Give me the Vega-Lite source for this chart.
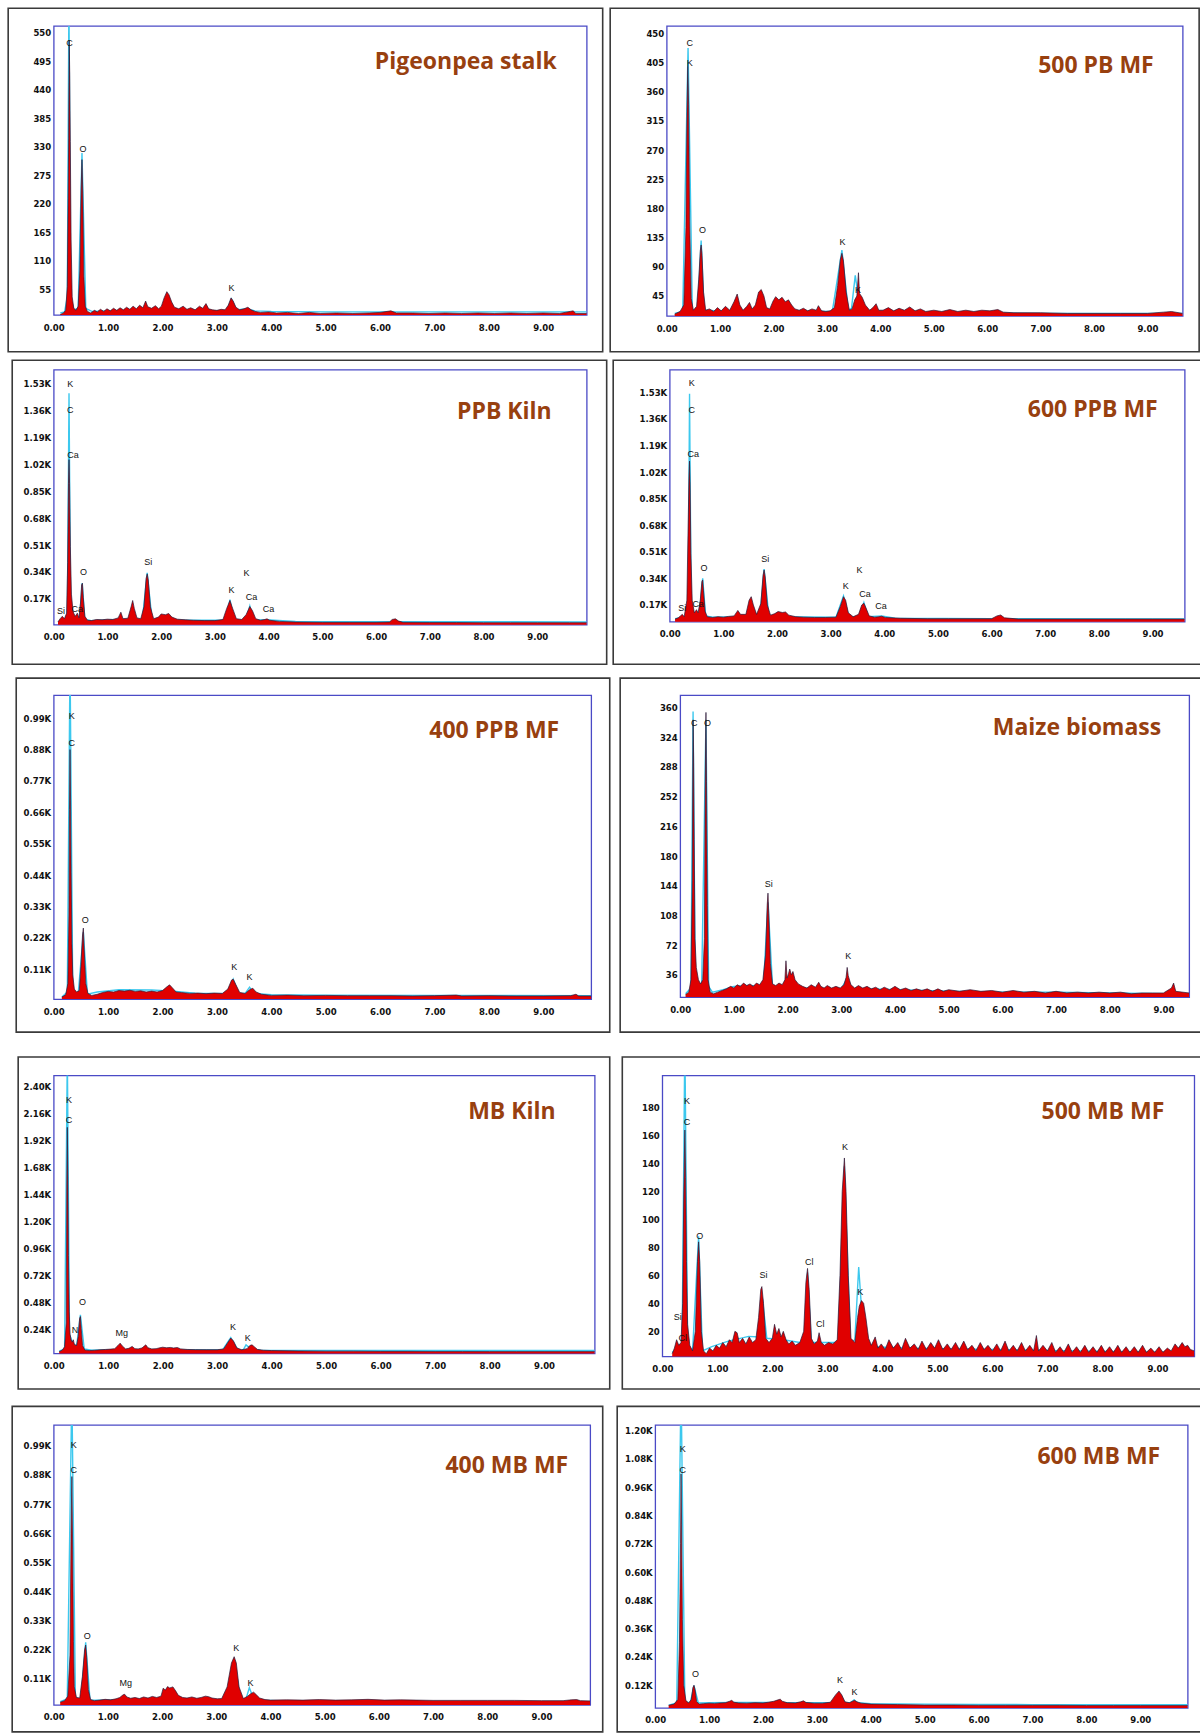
{
"$schema": "https://vega.github.io/schema/vega-lite/v6.json",
"background": "white",
"padding": {"left": 6.7, "top": 6.0, "right": 0, "bottom": 0},
"spacing": 4.7,
"datasets": {
"one": [{"n": 1}],
"s1": [{"e":0.12,"c":6},{"e":0.18,"c":9},{"e":0.22,"c":14},{"e":0.25,"c":60},{"e":0.265,"c":230},{"e":0.275,"c":345},{"e":0.285,"c":535},{"e":0.295,"c":470},{"e":0.305,"c":340},{"e":0.32,"c":150},{"e":0.34,"c":40},{"e":0.37,"c":18},{"e":0.41,"c":14},{"e":0.45,"c":22},{"e":0.48,"c":90},{"e":0.505,"c":250},{"e":0.52,"c":305},{"e":0.535,"c":240},{"e":0.555,"c":80},{"e":0.58,"c":22},{"e":0.62,"c":12},{"e":0.68,"c":9},{"e":0.75,"c":14},{"e":0.8,"c":11},{"e":0.86,"c":16},{"e":0.92,"c":12},{"e":0.98,"c":17},{"e":1.04,"c":13},{"e":1.1,"c":18},{"e":1.16,"c":14},{"e":1.22,"c":19},{"e":1.28,"c":15},{"e":1.34,"c":20},{"e":1.4,"c":16},{"e":1.46,"c":22},{"e":1.52,"c":17},{"e":1.58,"c":24},{"e":1.64,"c":19},{"e":1.69,"c":32},{"e":1.73,"c":21},{"e":1.8,"c":18},{"e":1.87,"c":23},{"e":1.93,"c":17},{"e":1.98,"c":22},{"e":2.03,"c":38},{"e":2.08,"c":50},{"e":2.12,"c":44},{"e":2.17,"c":30},{"e":2.22,"c":20},{"e":2.3,"c":17},{"e":2.38,"c":22},{"e":2.45,"c":16},{"e":2.52,"c":19},{"e":2.6,"c":15},{"e":2.68,"c":22},{"e":2.74,"c":18},{"e":2.8,"c":27},{"e":2.85,"c":17},{"e":2.92,"c":15},{"e":3.0,"c":14},{"e":3.08,"c":16},{"e":3.15,"c":15},{"e":3.21,"c":24},{"e":3.26,"c":38},{"e":3.3,"c":32},{"e":3.35,"c":20},{"e":3.42,"c":15},{"e":3.5,"c":17},{"e":3.57,"c":20},{"e":3.63,"c":15},{"e":3.7,"c":12},{"e":3.8,"c":10},{"e":3.95,"c":11},{"e":4.1,"c":9},{"e":4.3,"c":10},{"e":4.5,"c":8},{"e":4.7,"c":10},{"e":4.9,"c":8},{"e":5.2,"c":9},{"e":5.5,"c":8},{"e":5.8,"c":9},{"e":6.0,"c":10},{"e":6.2,"c":13},{"e":6.3,"c":9},{"e":6.6,"c":9},{"e":6.9,"c":8},{"e":7.2,"c":9},{"e":7.5,"c":8},{"e":7.8,"c":9},{"e":8.1,"c":8},{"e":8.4,"c":9},{"e":8.7,"c":8},{"e":9.0,"c":9},{"e":9.3,"c":8},{"e":9.5,"c":12},{"e":9.55,"c":13},{"e":9.6,"c":8},{"e":9.8,"c":8}],
"f1": [{"e":0.12,"c":9},{"e":0.2,"c":11},{"e":0.25,"c":40},{"e":0.28,"c":620},{"e":0.31,"c":40},{"e":0.37,"c":15},{"e":0.45,"c":18},{"e":0.52,"c":318},{"e":0.59,"c":18},{"e":0.7,"c":12},{"e":1.0,"c":13},{"e":1.5,"c":14},{"e":2.0,"c":14},{"e":2.5,"c":13},{"e":3.0,"c":13},{"e":3.18,"c":14},{"e":3.27,"c":36},{"e":3.36,"c":15},{"e":3.55,"c":17},{"e":3.7,"c":13},{"e":4.0,"c":12},{"e":5.0,"c":11},{"e":6.0,"c":11},{"e":7.0,"c":11},{"e":8.0,"c":11},{"e":9.0,"c":11},{"e":9.8,"c":11}],
"l1": [{"e":0.29,"c":530,"t":"C"},{"e":0.54,"c":325,"t":"O"},{"e":3.27,"c":58,"t":"K"}],
"s2": [{"e":0.15,"c":16},{"e":0.25,"c":20},{"e":0.32,"c":30},{"e":0.36,"c":150},{"e":0.38,"c":330},{"e":0.395,"c":400},{"e":0.41,"c":340},{"e":0.43,"c":160},{"e":0.46,"c":40},{"e":0.5,"c":22},{"e":0.56,"c":28},{"e":0.6,"c":70},{"e":0.63,"c":115},{"e":0.645,"c":123},{"e":0.66,"c":110},{"e":0.69,"c":50},{"e":0.73,"c":22},{"e":0.8,"c":24},{"e":0.88,"c":20},{"e":0.95,"c":26},{"e":1.02,"c":21},{"e":1.1,"c":28},{"e":1.18,"c":22},{"e":1.26,"c":35},{"e":1.32,"c":47},{"e":1.37,"c":30},{"e":1.43,"c":22},{"e":1.5,"c":28},{"e":1.55,"c":34},{"e":1.6,"c":24},{"e":1.66,"c":30},{"e":1.72,"c":50},{"e":1.77,"c":54},{"e":1.82,"c":44},{"e":1.87,"c":26},{"e":1.93,"c":24},{"e":1.99,"c":36},{"e":2.04,"c":43},{"e":2.1,"c":38},{"e":2.16,"c":42},{"e":2.22,"c":35},{"e":2.28,"c":38},{"e":2.34,"c":30},{"e":2.4,"c":24},{"e":2.48,"c":22},{"e":2.56,"c":25},{"e":2.64,"c":21},{"e":2.72,"c":24},{"e":2.8,"c":22},{"e":2.84,"c":29},{"e":2.9,"c":21},{"e":2.98,"c":20},{"e":3.06,"c":21},{"e":3.14,"c":26},{"e":3.2,"c":60},{"e":3.25,"c":100},{"e":3.28,"c":110},{"e":3.31,"c":98},{"e":3.36,"c":50},{"e":3.42,"c":22},{"e":3.47,"c":24},{"e":3.52,"c":38},{"e":3.56,"c":44},{"e":3.59,"c":80},{"e":3.61,"c":48},{"e":3.66,"c":42},{"e":3.72,"c":30},{"e":3.8,"c":22},{"e":3.86,"c":26},{"e":3.92,"c":32},{"e":3.97,"c":22},{"e":4.05,"c":22},{"e":4.15,"c":26},{"e":4.25,"c":21},{"e":4.35,"c":25},{"e":4.45,"c":22},{"e":4.55,"c":27},{"e":4.65,"c":21},{"e":4.75,"c":24},{"e":4.85,"c":20},{"e":5.0,"c":22},{"e":5.15,"c":20},{"e":5.3,"c":23},{"e":5.45,"c":20},{"e":5.6,"c":22},{"e":5.75,"c":20},{"e":5.9,"c":22},{"e":6.05,"c":21},{"e":6.2,"c":23},{"e":6.3,"c":19},{"e":6.5,"c":18},{"e":7.0,"c":18},{"e":7.5,"c":17},{"e":8.0,"c":17},{"e":8.5,"c":17},{"e":9.0,"c":17},{"e":9.3,"c":19},{"e":9.45,"c":20},{"e":9.66,"c":17}],
"f2": [{"e":0.15,"c":17},{"e":0.3,"c":20},{"e":0.4,"c":428},{"e":0.48,"c":22},{"e":0.58,"c":22},{"e":0.645,"c":130},{"e":0.7,"c":22},{"e":1.0,"c":21},{"e":2.0,"c":21},{"e":3.1,"c":20},{"e":3.28,"c":115},{"e":3.4,"c":22},{"e":3.46,"c":25},{"e":3.53,"c":76},{"e":3.6,"c":35},{"e":3.7,"c":22},{"e":4.5,"c":19},{"e":6.0,"c":18},{"e":7.0,"c":17},{"e":9.66,"c":17}],
"l2": [{"e":0.43,"c":435,"t":"C"},{"e":0.43,"c":404,"t":"K"},{"e":0.67,"c":146,"t":"O"},{"e":3.29,"c":128,"t":"K"},{"e":3.58,"c":53,"t":"K"}],
"s3": [{"e":0.08,"c":25},{"e":0.12,"c":45},{"e":0.16,"c":60},{"e":0.2,"c":45},{"e":0.24,"c":80},{"e":0.26,"c":400},{"e":0.275,"c":900},{"e":0.285,"c":1050},{"e":0.295,"c":900},{"e":0.31,"c":500},{"e":0.33,"c":200},{"e":0.36,"c":90},{"e":0.4,"c":60},{"e":0.44,"c":80},{"e":0.47,"c":50},{"e":0.5,"c":150},{"e":0.52,"c":260},{"e":0.535,"c":269},{"e":0.55,"c":180},{"e":0.58,"c":60},{"e":0.63,"c":35},{"e":0.7,"c":33},{"e":0.8,"c":40},{"e":0.9,"c":38},{"e":1.0,"c":42},{"e":1.1,"c":40},{"e":1.2,"c":50},{"e":1.25,"c":86},{"e":1.29,"c":45},{"e":1.38,"c":48},{"e":1.44,"c":120},{"e":1.47,"c":160},{"e":1.5,"c":110},{"e":1.55,"c":50},{"e":1.62,"c":45},{"e":1.68,"c":120},{"e":1.72,"c":300},{"e":1.74,"c":328},{"e":1.76,"c":290},{"e":1.8,"c":120},{"e":1.86,"c":45},{"e":1.95,"c":55},{"e":2.0,"c":75},{"e":2.08,"c":70},{"e":2.14,"c":78},{"e":2.2,"c":55},{"e":2.3,"c":42},{"e":2.45,"c":38},{"e":2.6,"c":35},{"e":2.8,"c":33},{"e":3.0,"c":33},{"e":3.15,"c":40},{"e":3.22,"c":110},{"e":3.28,"c":160},{"e":3.33,"c":110},{"e":3.4,"c":45},{"e":3.5,"c":40},{"e":3.58,"c":70},{"e":3.65,"c":122},{"e":3.7,"c":95},{"e":3.76,"c":45},{"e":3.85,"c":35},{"e":3.93,"c":40},{"e":3.97,"c":44},{"e":4.02,"c":35},{"e":4.2,"c":28},{"e":4.5,"c":24},{"e":5.0,"c":22},{"e":5.5,"c":22},{"e":6.0,"c":22},{"e":6.25,"c":24},{"e":6.3,"c":40},{"e":6.36,"c":44},{"e":6.42,"c":30},{"e":6.5,"c":22},{"e":7.0,"c":21},{"e":7.5,"c":21},{"e":8.0,"c":20},{"e":8.5,"c":20},{"e":9.0,"c":20},{"e":9.6,"c":20},{"e":9.92,"c":20}],
"f3": [{"e":0.08,"c":25},{"e":0.2,"c":35},{"e":0.255,"c":80},{"e":0.285,"c":1470},{"e":0.315,"c":80},{"e":0.4,"c":45},{"e":0.48,"c":40},{"e":0.53,"c":270},{"e":0.58,"c":40},{"e":0.7,"c":33},{"e":1.0,"c":38},{"e":1.5,"c":40},{"e":1.65,"c":40},{"e":1.74,"c":335},{"e":1.83,"c":40},{"e":2.5,"c":35},{"e":3.2,"c":35},{"e":3.28,"c":165},{"e":3.36,"c":35},{"e":3.58,"c":35},{"e":3.65,"c":125},{"e":3.72,"c":35},{"e":3.95,"c":38},{"e":4.5,"c":27},{"e":6.0,"c":26},{"e":9.92,"c":25}],
"l3": [{"e":0.31,"c":1530,"t":"K"},{"e":0.31,"c":1361,"t":"C"},{"e":0.36,"c":1077,"t":"Ca"},{"e":0.135,"c":96,"t":"Si"},{"e":0.44,"c":107,"t":"Ca"},{"e":0.555,"c":343,"t":"O"},{"e":1.76,"c":402,"t":"Si"},{"e":3.31,"c":229,"t":"K"},{"e":3.59,"c":335,"t":"K"},{"e":3.68,"c":181,"t":"Ca"},{"e":4.0,"c":107,"t":"Ca"}],
"s4": [{"e":0.1,"c":80},{"e":0.16,"c":88},{"e":0.2,"c":100},{"e":0.235,"c":110},{"e":0.27,"c":95},{"e":0.32,"c":200},{"e":0.345,"c":700},{"e":0.36,"c":1000},{"e":0.37,"c":1090},{"e":0.38,"c":950},{"e":0.395,"c":500},{"e":0.42,"c":200},{"e":0.46,"c":120},{"e":0.5,"c":140},{"e":0.53,"c":120},{"e":0.57,"c":200},{"e":0.6,"c":320},{"e":0.615,"c":330},{"e":0.63,"c":260},{"e":0.66,"c":130},{"e":0.7,"c":95},{"e":0.8,"c":90},{"e":0.9,"c":95},{"e":1.0,"c":92},{"e":1.1,"c":97},{"e":1.2,"c":100},{"e":1.27,"c":135},{"e":1.32,"c":110},{"e":1.42,"c":110},{"e":1.48,"c":200},{"e":1.52,"c":223},{"e":1.56,"c":170},{"e":1.62,"c":110},{"e":1.7,"c":180},{"e":1.74,"c":360},{"e":1.76,"c":394},{"e":1.78,"c":350},{"e":1.82,"c":170},{"e":1.88,"c":105},{"e":1.96,"c":115},{"e":2.02,"c":128},{"e":2.1,"c":122},{"e":2.16,"c":125},{"e":2.22,"c":105},{"e":2.35,"c":95},{"e":2.5,"c":92},{"e":2.7,"c":90},{"e":2.9,"c":90},{"e":3.1,"c":92},{"e":3.18,"c":160},{"e":3.24,"c":223},{"e":3.28,"c":200},{"e":3.33,"c":120},{"e":3.42,"c":95},{"e":3.52,"c":110},{"e":3.58,"c":170},{"e":3.62,"c":181},{"e":3.66,"c":150},{"e":3.72,"c":100},{"e":3.82,"c":92},{"e":3.9,"c":95},{"e":3.95,"c":98},{"e":4.02,"c":90},{"e":4.3,"c":85},{"e":4.8,"c":82},{"e":5.2,"c":82},{"e":5.6,"c":82},{"e":6.0,"c":82},{"e":6.1,"c":100},{"e":6.17,"c":106},{"e":6.24,"c":88},{"e":6.5,"c":80},{"e":7.0,"c":80},{"e":7.5,"c":80},{"e":8.0,"c":80},{"e":8.5,"c":80},{"e":9.0,"c":80},{"e":9.6,"c":80}],
"f4": [{"e":0.1,"c":82},{"e":0.3,"c":95},{"e":0.345,"c":150},{"e":0.37,"c":1520},{"e":0.4,"c":150},{"e":0.47,"c":110},{"e":0.55,"c":100},{"e":0.615,"c":340},{"e":0.67,"c":100},{"e":0.8,"c":92},{"e":1.5,"c":95},{"e":1.68,"c":95},{"e":1.76,"c":400},{"e":1.85,"c":95},{"e":3.1,"c":92},{"e":3.24,"c":228},{"e":3.34,"c":95},{"e":3.53,"c":95},{"e":3.62,"c":185},{"e":3.7,"c":95},{"e":3.95,"c":100},{"e":4.2,"c":85},{"e":6.0,"c":82},{"e":9.6,"c":80}],
"l4": [{"e":0.41,"c":1588,"t":"K"},{"e":0.41,"c":1417,"t":"C"},{"e":0.44,"c":1133,"t":"Ca"},{"e":0.235,"c":153,"t":"Si"},{"e":0.53,"c":174,"t":"Ca"},{"e":0.64,"c":404,"t":"O"},{"e":1.78,"c":464,"t":"Si"},{"e":3.28,"c":291,"t":"K"},{"e":3.54,"c":394,"t":"K"},{"e":3.64,"c":240,"t":"Ca"},{"e":3.94,"c":166,"t":"Ca"}],
"s5": [{"e":0.15,"c":12},{"e":0.22,"c":20},{"e":0.26,"c":60},{"e":0.28,"c":300},{"e":0.29,"c":670},{"e":0.3,"c":880},{"e":0.31,"c":700},{"e":0.32,"c":450},{"e":0.335,"c":200},{"e":0.35,"c":90},{"e":0.38,"c":40},{"e":0.42,"c":30},{"e":0.47,"c":35},{"e":0.5,"c":120},{"e":0.53,"c":230},{"e":0.545,"c":254},{"e":0.56,"c":180},{"e":0.59,"c":60},{"e":0.63,"c":25},{"e":0.7,"c":18},{"e":0.8,"c":22},{"e":0.9,"c":28},{"e":1.0,"c":32},{"e":1.1,"c":30},{"e":1.2,"c":35},{"e":1.3,"c":33},{"e":1.4,"c":36},{"e":1.5,"c":32},{"e":1.6,"c":34},{"e":1.7,"c":30},{"e":1.8,"c":33},{"e":1.9,"c":30},{"e":2.0,"c":35},{"e":2.08,"c":48},{"e":2.13,"c":55},{"e":2.18,"c":45},{"e":2.25,"c":30},{"e":2.35,"c":28},{"e":2.5,"c":25},{"e":2.65,"c":26},{"e":2.8,"c":24},{"e":2.95,"c":26},{"e":3.1,"c":25},{"e":3.2,"c":40},{"e":3.27,"c":72},{"e":3.3,"c":75},{"e":3.35,"c":55},{"e":3.42,"c":28},{"e":3.52,"c":25},{"e":3.6,"c":38},{"e":3.66,"c":43},{"e":3.72,"c":30},{"e":3.82,"c":22},{"e":4.0,"c":18},{"e":4.3,"c":19},{"e":4.6,"c":17},{"e":5.0,"c":18},{"e":5.4,"c":17},{"e":5.8,"c":17},{"e":6.2,"c":17},{"e":6.6,"c":16},{"e":7.0,"c":17},{"e":7.4,"c":19},{"e":7.5,"c":16},{"e":8.0,"c":17},{"e":8.5,"c":16},{"e":9.0,"c":16},{"e":9.5,"c":17},{"e":9.6,"c":22},{"e":9.65,"c":16},{"e":9.88,"c":16}],
"f5": [{"e":0.15,"c":12},{"e":0.25,"c":30},{"e":0.3,"c":1200},{"e":0.35,"c":30},{"e":0.45,"c":22},{"e":0.545,"c":240},{"e":0.62,"c":22},{"e":0.8,"c":30},{"e":1.2,"c":38},{"e":1.8,"c":37},{"e":2.2,"c":33},{"e":2.6,"c":26},{"e":3.2,"c":24},{"e":3.3,"c":75},{"e":3.4,"c":25},{"e":3.52,"c":25},{"e":3.6,"c":47},{"e":3.68,"c":25},{"e":4.0,"c":20},{"e":5.0,"c":19},{"e":7.0,"c":18},{"e":9.88,"c":17}],
"l5": [{"e":0.33,"c":996,"t":"K"},{"e":0.33,"c":902,"t":"C"},{"e":0.58,"c":283,"t":"O"},{"e":3.32,"c":117,"t":"K"},{"e":3.6,"c":81,"t":"K"}],
"s6": [{"e":0.1,"c":12},{"e":0.16,"c":15},{"e":0.2,"c":30},{"e":0.225,"c":150},{"e":0.24,"c":345},{"e":0.25,"c":300},{"e":0.26,"c":200},{"e":0.275,"c":80},{"e":0.3,"c":45},{"e":0.34,"c":30},{"e":0.38,"c":25},{"e":0.42,"c":30},{"e":0.45,"c":80},{"e":0.465,"c":260},{"e":0.48,"c":354},{"e":0.49,"c":270},{"e":0.505,"c":120},{"e":0.52,"c":30},{"e":0.56,"c":15},{"e":0.62,"c":13},{"e":0.7,"c":15},{"e":0.78,"c":17},{"e":0.86,"c":19},{"e":0.94,"c":22},{"e":1.0,"c":20},{"e":1.06,"c":24},{"e":1.12,"c":22},{"e":1.18,"c":26},{"e":1.24,"c":23},{"e":1.3,"c":25},{"e":1.36,"c":22},{"e":1.42,"c":26},{"e":1.48,"c":24},{"e":1.54,"c":30},{"e":1.59,"c":60},{"e":1.62,"c":120},{"e":1.635,"c":135},{"e":1.65,"c":110},{"e":1.68,"c":50},{"e":1.72,"c":25},{"e":1.78,"c":23},{"e":1.84,"c":26},{"e":1.9,"c":24},{"e":1.95,"c":30},{"e":1.97,"c":53},{"e":1.99,"c":32},{"e":2.02,"c":38},{"e":2.04,"c":43},{"e":2.07,"c":36},{"e":2.1,"c":40},{"e":2.14,"c":30},{"e":2.2,"c":25},{"e":2.28,"c":22},{"e":2.36,"c":20},{"e":2.44,"c":24},{"e":2.52,"c":21},{"e":2.58,"c":27},{"e":2.62,"c":22},{"e":2.68,"c":20},{"e":2.74,"c":23},{"e":2.82,"c":20},{"e":2.9,"c":22},{"e":2.98,"c":20},{"e":3.05,"c":24},{"e":3.09,"c":33},{"e":3.11,"c":45},{"e":3.13,"c":35},{"e":3.18,"c":24},{"e":3.25,"c":20},{"e":3.32,"c":23},{"e":3.4,"c":20},{"e":3.48,"c":22},{"e":3.56,"c":19},{"e":3.64,"c":21},{"e":3.72,"c":18},{"e":3.8,"c":21},{"e":3.9,"c":18},{"e":4.0,"c":22},{"e":4.1,"c":18},{"e":4.2,"c":20},{"e":4.3,"c":17},{"e":4.4,"c":19},{"e":4.5,"c":17},{"e":4.6,"c":19},{"e":4.7,"c":16},{"e":4.8,"c":19},{"e":4.9,"c":16},{"e":5.0,"c":18},{"e":5.2,"c":16},{"e":5.4,"c":18},{"e":5.6,"c":16},{"e":5.8,"c":17},{"e":6.0,"c":15},{"e":6.2,"c":17},{"e":6.4,"c":15},{"e":6.6,"c":16},{"e":6.8,"c":14},{"e":7.0,"c":16},{"e":7.2,"c":14},{"e":7.4,"c":15},{"e":7.6,"c":14},{"e":7.8,"c":15},{"e":8.0,"c":14},{"e":8.2,"c":15},{"e":8.4,"c":13},{"e":8.6,"c":14},{"e":8.8,"c":14},{"e":9.0,"c":14},{"e":9.15,"c":20},{"e":9.19,"c":26},{"e":9.23,"c":16},{"e":9.48,"c":14}],
"f6": [{"e":0.1,"c":13},{"e":0.2,"c":20},{"e":0.24,"c":355},{"e":0.28,"c":25},{"e":0.4,"c":25},{"e":0.48,"c":345},{"e":0.53,"c":22},{"e":0.6,"c":15},{"e":0.8,"c":18},{"e":1.0,"c":22},{"e":1.3,"c":23},{"e":1.55,"c":22},{"e":1.635,"c":124},{"e":1.72,"c":22},{"e":2.0,"c":21},{"e":2.5,"c":19},{"e":3.0,"c":19},{"e":3.11,"c":32},{"e":3.2,"c":19},{"e":3.5,"c":19},{"e":4.0,"c":18},{"e":5.0,"c":16},{"e":6.0,"c":15},{"e":7.0,"c":15},{"e":8.0,"c":14},{"e":9.0,"c":13},{"e":9.48,"c":13}],
"l6": [{"e":0.26,"c":341,"t":"C"},{"e":0.51,"c":341,"t":"O"},{"e":1.65,"c":146,"t":"Si"},{"e":3.13,"c":59,"t":"K"}],
"s7": [{"e":0.1,"c":45},{"e":0.16,"c":60},{"e":0.2,"c":90},{"e":0.23,"c":300},{"e":0.24,"c":1500},{"e":0.25,"c":2040},{"e":0.26,"c":1600},{"e":0.27,"c":900},{"e":0.285,"c":400},{"e":0.3,"c":200},{"e":0.32,"c":150},{"e":0.34,"c":130},{"e":0.36,"c":151},{"e":0.38,"c":110},{"e":0.42,"c":100},{"e":0.45,"c":180},{"e":0.475,"c":340},{"e":0.49,"c":358},{"e":0.505,"c":250},{"e":0.53,"c":100},{"e":0.57,"c":60},{"e":0.65,"c":55},{"e":0.75,"c":58},{"e":0.85,"c":62},{"e":0.95,"c":65},{"e":1.05,"c":68},{"e":1.12,"c":72},{"e":1.18,"c":100},{"e":1.22,"c":121},{"e":1.26,"c":95},{"e":1.32,"c":70},{"e":1.38,"c":75},{"e":1.44,"c":92},{"e":1.49,"c":72},{"e":1.55,"c":70},{"e":1.62,"c":78},{"e":1.69,"c":106},{"e":1.73,"c":80},{"e":1.8,"c":70},{"e":1.88,"c":72},{"e":1.95,"c":80},{"e":2.0,"c":85},{"e":2.07,"c":80},{"e":2.14,"c":83},{"e":2.2,"c":78},{"e":2.27,"c":82},{"e":2.33,"c":70},{"e":2.45,"c":65},{"e":2.6,"c":63},{"e":2.8,"c":62},{"e":3.0,"c":62},{"e":3.12,"c":70},{"e":3.2,"c":130},{"e":3.25,"c":166},{"e":3.3,"c":140},{"e":3.36,"c":80},{"e":3.45,"c":62},{"e":3.55,"c":72},{"e":3.6,"c":100},{"e":3.64,"c":106},{"e":3.68,"c":90},{"e":3.74,"c":65},{"e":3.85,"c":58},{"e":4.0,"c":55},{"e":4.5,"c":52},{"e":5.0,"c":50},{"e":5.5,"c":50},{"e":6.0,"c":48},{"e":6.5,"c":48},{"e":7.0,"c":47},{"e":7.5,"c":47},{"e":8.0,"c":46},{"e":8.5,"c":46},{"e":9.0,"c":46},{"e":9.93,"c":46}],
"f7": [{"e":0.1,"c":50},{"e":0.2,"c":70},{"e":0.25,"c":2700},{"e":0.29,"c":200},{"e":0.35,"c":120},{"e":0.42,"c":90},{"e":0.49,"c":373},{"e":0.56,"c":70},{"e":0.7,"c":58},{"e":1.0,"c":62},{"e":2.0,"c":62},{"e":3.1,"c":62},{"e":3.25,"c":170},{"e":3.38,"c":62},{"e":3.48,"c":62},{"e":3.53,"c":106},{"e":3.62,"c":70},{"e":3.8,"c":58},{"e":4.5,"c":56},{"e":6.0,"c":55},{"e":9.93,"c":55}],
"l7": [{"e":0.28,"c":2287,"t":"K"},{"e":0.28,"c":2103,"t":"C"},{"e":0.39,"c":240,"t":"N"},{"e":0.53,"c":486,"t":"O"},{"e":1.25,"c":210,"t":"Mg"},{"e":3.29,"c":269,"t":"K"},{"e":3.56,"c":166,"t":"K"}],
"s8": [{"e":0.18,"c":4},{"e":0.22,"c":8},{"e":0.26,"c":14},{"e":0.3,"c":10},{"e":0.34,"c":12},{"e":0.37,"c":40},{"e":0.39,"c":116},{"e":0.41,"c":164},{"e":0.425,"c":130},{"e":0.44,"c":70},{"e":0.46,"c":25},{"e":0.5,"c":10},{"e":0.55,"c":6},{"e":0.6,"c":20},{"e":0.64,"c":70},{"e":0.66,"c":84},{"e":0.68,"c":70},{"e":0.71,"c":20},{"e":0.75,"c":6},{"e":0.8,"c":4},{"e":0.86,"c":8},{"e":0.92,"c":6},{"e":0.98,"c":10},{"e":1.04,"c":8},{"e":1.1,"c":12},{"e":1.16,"c":9},{"e":1.22,"c":14},{"e":1.27,"c":12},{"e":1.32,"c":20},{"e":1.36,"c":19},{"e":1.4,"c":12},{"e":1.46,"c":15},{"e":1.52,"c":11},{"e":1.58,"c":16},{"e":1.64,"c":12},{"e":1.7,"c":14},{"e":1.75,"c":30},{"e":1.79,"c":50},{"e":1.81,"c":52},{"e":1.84,"c":40},{"e":1.88,"c":15},{"e":1.94,"c":12},{"e":2.0,"c":15},{"e":2.04,"c":25},{"e":2.08,"c":18},{"e":2.12,"c":22},{"e":2.16,"c":16},{"e":2.2,"c":20},{"e":2.25,"c":14},{"e":2.3,"c":11},{"e":2.36,"c":13},{"e":2.42,"c":10},{"e":2.5,"c":12},{"e":2.57,"c":20},{"e":2.61,"c":55},{"e":2.64,"c":65},{"e":2.67,"c":50},{"e":2.71,"c":15},{"e":2.76,"c":11},{"e":2.82,"c":13},{"e":2.85,"c":19},{"e":2.89,"c":12},{"e":2.95,"c":10},{"e":3.02,"c":12},{"e":3.1,"c":11},{"e":3.18,"c":14},{"e":3.23,"c":60},{"e":3.27,"c":120},{"e":3.31,"c":144},{"e":3.34,"c":120},{"e":3.38,"c":60},{"e":3.43,"c":15},{"e":3.5,"c":12},{"e":3.55,"c":30},{"e":3.58,"c":38},{"e":3.62,"c":42},{"e":3.66,"c":40},{"e":3.7,"c":30},{"e":3.75,"c":15},{"e":3.8,"c":10},{"e":3.87,"c":16},{"e":3.92,"c":8},{"e":3.98,"c":11},{"e":4.05,"c":7},{"e":4.12,"c":14},{"e":4.2,"c":8},{"e":4.28,"c":12},{"e":4.35,"c":7},{"e":4.42,"c":15},{"e":4.5,"c":8},{"e":4.58,"c":11},{"e":4.65,"c":7},{"e":4.72,"c":13},{"e":4.8,"c":7},{"e":4.88,"c":12},{"e":4.95,"c":8},{"e":5.02,"c":14},{"e":5.1,"c":7},{"e":5.18,"c":11},{"e":5.25,"c":7},{"e":5.33,"c":12},{"e":5.4,"c":7},{"e":5.48,"c":13},{"e":5.55,"c":7},{"e":5.63,"c":10},{"e":5.7,"c":6},{"e":5.78,"c":12},{"e":5.85,"c":7},{"e":5.92,"c":10},{"e":6.0,"c":6},{"e":6.08,"c":11},{"e":6.15,"c":6},{"e":6.23,"c":13},{"e":6.3,"c":6},{"e":6.38,"c":10},{"e":6.45,"c":6},{"e":6.53,"c":12},{"e":6.6,"c":6},{"e":6.68,"c":10},{"e":6.75,"c":6},{"e":6.8,"c":17},{"e":6.84,"c":6},{"e":6.92,"c":10},{"e":7.0,"c":6},{"e":7.08,"c":12},{"e":7.15,"c":5},{"e":7.23,"c":9},{"e":7.3,"c":5},{"e":7.38,"c":11},{"e":7.45,"c":5},{"e":7.53,"c":9},{"e":7.6,"c":5},{"e":7.68,"c":10},{"e":7.75,"c":5},{"e":7.83,"c":9},{"e":7.9,"c":5},{"e":7.98,"c":10},{"e":8.05,"c":5},{"e":8.13,"c":9},{"e":8.2,"c":5},{"e":8.28,"c":10},{"e":8.35,"c":5},{"e":8.43,"c":9},{"e":8.5,"c":5},{"e":8.58,"c":9},{"e":8.65,"c":5},{"e":8.73,"c":10},{"e":8.8,"c":5},{"e":8.88,"c":8},{"e":8.95,"c":5},{"e":9.03,"c":9},{"e":9.1,"c":5},{"e":9.18,"c":8},{"e":9.25,"c":6},{"e":9.32,"c":11},{"e":9.38,"c":8},{"e":9.45,"c":12},{"e":9.5,"c":9},{"e":9.55,"c":10},{"e":9.6,"c":7},{"e":9.67,"c":6}],
"f8": [{"e":0.18,"c":5},{"e":0.3,"c":8},{"e":0.36,"c":10},{"e":0.41,"c":230},{"e":0.46,"c":10},{"e":0.55,"c":6},{"e":0.66,"c":88},{"e":0.73,"c":6},{"e":0.9,"c":9},{"e":1.2,"c":13},{"e":1.57,"c":16.4},{"e":1.75,"c":16},{"e":1.82,"c":44},{"e":1.9,"c":15},{"e":2.2,"c":14},{"e":2.5,"c":12},{"e":2.58,"c":12},{"e":2.64,"c":62},{"e":2.71,"c":12},{"e":3.0,"c":12},{"e":3.2,"c":12},{"e":3.31,"c":138},{"e":3.42,"c":12},{"e":3.5,"c":14},{"e":3.57,"c":66},{"e":3.66,"c":14},{"e":3.8,"c":9},{"e":4.5,"c":8},{"e":6.0,"c":7},{"e":7.5,"c":6},{"e":9.0,"c":5},{"e":9.67,"c":5}],
"l8": [{"e":0.28,"c":30,"t":"Si"},{"e":0.37,"c":15,"t":"Cl"},{"e":0.45,"c":185,"t":"K"},{"e":0.45,"c":170,"t":"C"},{"e":0.68,"c":88.5,"t":"O"},{"e":1.84,"c":60,"t":"Si"},{"e":2.67,"c":69.4,"t":"Cl"},{"e":2.87,"c":25.5,"t":"Cl"},{"e":3.32,"c":152,"t":"K"},{"e":3.6,"c":48,"t":"K"}],
"s9": [{"e":0.12,"c":22},{"e":0.2,"c":28},{"e":0.26,"c":45},{"e":0.3,"c":200},{"e":0.32,"c":660},{"e":0.335,"c":874},{"e":0.35,"c":600},{"e":0.365,"c":250},{"e":0.38,"c":80},{"e":0.42,"c":40},{"e":0.48,"c":38},{"e":0.53,"c":120},{"e":0.57,"c":220},{"e":0.59,"c":238},{"e":0.61,"c":190},{"e":0.64,"c":70},{"e":0.68,"c":32},{"e":0.75,"c":28},{"e":0.85,"c":30},{"e":0.95,"c":33},{"e":1.05,"c":31},{"e":1.15,"c":35},{"e":1.22,"c":40},{"e":1.28,"c":50},{"e":1.31,"c":52},{"e":1.35,"c":42},{"e":1.42,"c":37},{"e":1.5,"c":40},{"e":1.58,"c":36},{"e":1.66,"c":42},{"e":1.74,"c":38},{"e":1.82,"c":44},{"e":1.9,"c":40},{"e":1.98,"c":45},{"e":2.02,"c":75},{"e":2.06,"c":68},{"e":2.1,"c":81},{"e":2.14,"c":76},{"e":2.2,"c":80},{"e":2.25,"c":65},{"e":2.3,"c":48},{"e":2.38,"c":40},{"e":2.46,"c":38},{"e":2.55,"c":42},{"e":2.64,"c":37},{"e":2.72,"c":40},{"e":2.8,"c":45},{"e":2.86,"c":43},{"e":2.92,"c":38},{"e":3.02,"c":35},{"e":3.1,"c":36},{"e":3.2,"c":80},{"e":3.28,"c":170},{"e":3.33,"c":194},{"e":3.37,"c":170},{"e":3.42,"c":80},{"e":3.5,"c":36},{"e":3.58,"c":45},{"e":3.64,"c":55},{"e":3.69,"c":60},{"e":3.74,"c":50},{"e":3.8,"c":38},{"e":3.9,"c":32},{"e":4.0,"c":30},{"e":4.3,"c":31},{"e":4.6,"c":30},{"e":4.9,"c":32},{"e":5.2,"c":30},{"e":5.5,"c":31},{"e":5.8,"c":33},{"e":6.1,"c":30},{"e":6.4,"c":31},{"e":6.7,"c":30},{"e":7.0,"c":29},{"e":7.5,"c":29},{"e":8.0,"c":29},{"e":8.5,"c":29},{"e":9.0,"c":28},{"e":9.4,"c":28},{"e":9.55,"c":31},{"e":9.65,"c":32},{"e":9.72,"c":28},{"e":9.9,"c":27}],
"f9": [{"e":0.12,"c":24},{"e":0.25,"c":35},{"e":0.335,"c":1200},{"e":0.4,"c":40},{"e":0.5,"c":32},{"e":0.59,"c":248},{"e":0.67,"c":30},{"e":0.8,"c":30},{"e":1.2,"c":32},{"e":1.31,"c":40},{"e":1.4,"c":32},{"e":2.0,"c":33},{"e":3.0,"c":31},{"e":3.2,"c":31},{"e":3.33,"c":188},{"e":3.45,"c":31},{"e":3.55,"c":35},{"e":3.61,"c":77},{"e":3.68,"c":40},{"e":3.8,"c":30},{"e":4.5,"c":26},{"e":6.0,"c":25},{"e":8.0,"c":24},{"e":9.9,"c":24}],
"l9": [{"e":0.37,"c":994,"t":"K"},{"e":0.37,"c":899,"t":"C"},{"e":0.62,"c":272,"t":"O"},{"e":1.33,"c":96,"t":"Mg"},{"e":3.37,"c":228,"t":"K"},{"e":3.63,"c":96,"t":"K"}],
"s10": [{"e":0.25,"c":35},{"e":0.35,"c":40},{"e":0.42,"c":60},{"e":0.45,"c":300},{"e":0.47,"c":720},{"e":0.48,"c":1016},{"e":0.49,"c":800},{"e":0.505,"c":400},{"e":0.53,"c":120},{"e":0.57,"c":55},{"e":0.62,"c":45},{"e":0.67,"c":60},{"e":0.7,"c":110},{"e":0.72,"c":120},{"e":0.74,"c":100},{"e":0.77,"c":50},{"e":0.82,"c":40},{"e":0.9,"c":42},{"e":1.0,"c":44},{"e":1.1,"c":43},{"e":1.2,"c":45},{"e":1.3,"c":46},{"e":1.38,"c":52},{"e":1.42,"c":56},{"e":1.46,"c":48},{"e":1.55,"c":45},{"e":1.7,"c":44},{"e":1.85,"c":46},{"e":2.0,"c":45},{"e":2.1,"c":48},{"e":2.2,"c":52},{"e":2.28,"c":58},{"e":2.32,"c":61},{"e":2.36,"c":52},{"e":2.45,"c":46},{"e":2.6,"c":45},{"e":2.7,"c":50},{"e":2.75,"c":54},{"e":2.8,"c":47},{"e":2.95,"c":44},{"e":3.1,"c":44},{"e":3.25,"c":48},{"e":3.35,"c":80},{"e":3.41,"c":95},{"e":3.46,"c":80},{"e":3.52,"c":50},{"e":3.6,"c":46},{"e":3.66,"c":52},{"e":3.7,"c":56},{"e":3.74,"c":50},{"e":3.82,"c":44},{"e":4.0,"c":40},{"e":4.5,"c":38},{"e":5.0,"c":36},{"e":5.5,"c":36},{"e":6.0,"c":35},{"e":6.5,"c":35},{"e":7.0,"c":35},{"e":7.5,"c":35},{"e":8.0,"c":34},{"e":8.5,"c":34},{"e":9.0,"c":34},{"e":9.88,"c":34}],
"f10": [{"e":0.25,"c":36},{"e":0.4,"c":45},{"e":0.48,"c":1400},{"e":0.55,"c":50},{"e":0.65,"c":45},{"e":0.72,"c":118},{"e":0.8,"c":45},{"e":1.0,"c":46},{"e":1.5,"c":47},{"e":2.0,"c":47},{"e":2.5,"c":46},{"e":3.0,"c":46},{"e":3.3,"c":46},{"e":3.41,"c":92},{"e":3.52,"c":46},{"e":3.62,"c":46},{"e":3.69,"c":58},{"e":3.76,"c":46},{"e":4.0,"c":42},{"e":5.0,"c":40},{"e":6.0,"c":39},{"e":7.0,"c":38},{"e":8.0,"c":38},{"e":9.88,"c":38}],
"l10": [{"e":0.51,"c":1122,"t":"K"},{"e":0.51,"c":1031,"t":"C"},{"e":0.75,"c":169,"t":"O"},{"e":3.43,"c":141,"t":"K"},{"e":3.7,"c":92,"t":"K"}]
},
"vconcat": [
 {"hconcat": [
  {"width": 533, "height": 289,
   "layer": [
    {"data": {"name": "one"}, "mark": {"type": "rect", "fillOpacity": 0, "stroke": "#3a3a3a", "strokeWidth": 1.6, "clip": false}, "encoding": {"x": {"datum": -0.837, "type": "quantitative", "scale": {"domain": [0, 9.8], "nice": false, "zero": false}, "axis": {"values": [0,1,2,3,4,5,6,7,8,9], "tickCount": 40, "format": ".2f", "title": null, "labelOverlap": false, "labelFlush": false}}, "x2": {"datum": 10.094}, "y": {"datum": 597.2, "type": "quantitative", "scale": {"domain": [5, 563], "nice": false, "zero": false}, "axis": {"values": [55,110,165,220,275,330,385,440,495,550], "tickCount": 40, "title": null, "labelOverlap": false, "labelFlush": false}}, "y2": {"datum": -65.9}}},
    {"data": {"name": "f1"}, "mark": {"type": "line", "color": "#3cc8ee", "strokeWidth": 1.4, "clip": true}, "encoding": {"x": {"field": "e", "type": "quantitative"}, "y": {"field": "c", "type": "quantitative"}}},
    {"data": {"name": "s1"}, "mark": {"type": "area", "color": "#e00000", "opacity": 1, "clip": true, "line": {"color": "#2a1a3a", "strokeWidth": 0.7}}, "encoding": {"x": {"field": "e", "type": "quantitative"}, "y": {"field": "c", "type": "quantitative"}}},
    {"data": {"name": "l1"}, "mark": {"type": "text", "fontSize": 9, "font": "Liberation Sans", "color": "#111", "baseline": "middle"}, "encoding": {"x": {"field": "e", "type": "quantitative"}, "y": {"field": "c", "type": "quantitative"}, "text": {"field": "t"}}},
    {"data": {"name": "one"}, "mark": {"type": "text", "align": "right", "baseline": "alphabetic", "font": "Open Sans", "fontWeight": "bold", "fontSize": 23, "color": "#98400f"}, "encoding": {"x": {"datum": 9.248, "type": "quantitative"}, "y": {"datum": 480, "type": "quantitative"}, "text": {"value": "Pigeonpea stalk"}}}
   ]},
  {"width": 516, "height": 290,
   "layer": [
    {"data": {"name": "one"}, "mark": {"type": "rect", "fillOpacity": 0, "stroke": "#3a3a3a", "strokeWidth": 1.6, "clip": false}, "encoding": {"x": {"datum": -1.058, "type": "quantitative", "scale": {"domain": [0, 9.66], "nice": false, "zero": false}, "axis": {"values": [0,1,2,3,4,5,6,7,8,9], "tickCount": 40, "format": ".2f", "title": null, "labelOverlap": false, "labelFlush": false}}, "x2": {"datum": 9.968}, "y": {"datum": 489.4, "type": "quantitative", "scale": {"domain": [13, 462], "nice": false, "zero": false}, "axis": {"values": [45,90,135,180,225,270,315,360,405,450], "tickCount": 40, "title": null, "labelOverlap": false, "labelFlush": false}}, "y2": {"datum": -42.3}}},
    {"data": {"name": "f2"}, "mark": {"type": "line", "color": "#3cc8ee", "strokeWidth": 1.4, "clip": true}, "encoding": {"x": {"field": "e", "type": "quantitative"}, "y": {"field": "c", "type": "quantitative"}}},
    {"data": {"name": "s2"}, "mark": {"type": "area", "color": "#e00000", "opacity": 1, "clip": true, "line": {"color": "#2a1a3a", "strokeWidth": 0.7}}, "encoding": {"x": {"field": "e", "type": "quantitative"}, "y": {"field": "c", "type": "quantitative"}}},
    {"data": {"name": "l2"}, "mark": {"type": "text", "fontSize": 9, "font": "Liberation Sans", "color": "#111", "baseline": "middle"}, "encoding": {"x": {"field": "e", "type": "quantitative"}, "y": {"field": "c", "type": "quantitative"}, "text": {"field": "t"}}},
    {"data": {"name": "one"}, "mark": {"type": "text", "align": "right", "baseline": "alphabetic", "font": "Open Sans", "fontWeight": "bold", "fontSize": 23, "color": "#98400f"}, "encoding": {"x": {"datum": 9.117, "type": "quantitative"}, "y": {"datum": 389.2, "type": "quantitative"}, "text": {"value": "500 PB MF"}}}
   ]}
 ], "spacing": 80, "bounds": "flush"},
 {"vconcat": [
  {"hconcat": [
   {"width": 533, "height": 255,
    "layer": [
     {"data": {"name": "one"}, "mark": {"type": "rect", "fillOpacity": 0, "stroke": "#3a3a3a", "strokeWidth": 1.6, "clip": false}, "encoding": {"x": {"datum": -0.772, "type": "quantitative", "scale": {"domain": [0, 9.92], "nice": false, "zero": false}, "axis": {"values": [0,1,2,3,4,5,6,7,8,9], "tickCount": 40, "format": ".2f", "title": null, "labelOverlap": false, "labelFlush": false}}, "x2": {"datum": 10.292}, "y": {"datum": 1678, "type": "quantitative", "scale": {"domain": [7, 1618], "nice": false, "zero": false}, "axis": {"values": [170,340,510,680,850,1020,1190,1360,1530], "tickCount": 40, "labelExpr": "format(datum.value/1000,'.2f')+'K'", "title": null, "labelOverlap": false, "labelFlush": false}}, "y2": {"datum": -242.5}}},
     {"data": {"name": "f3"}, "mark": {"type": "line", "color": "#3cc8ee", "strokeWidth": 1.4, "clip": true}, "encoding": {"x": {"field": "e", "type": "quantitative"}, "y": {"field": "c", "type": "quantitative"}}},
     {"data": {"name": "s3"}, "mark": {"type": "area", "color": "#e00000", "opacity": 1, "clip": true, "line": {"color": "#2a1a3a", "strokeWidth": 0.7}}, "encoding": {"x": {"field": "e", "type": "quantitative"}, "y": {"field": "c", "type": "quantitative"}}},
     {"data": {"name": "l3"}, "mark": {"type": "text", "fontSize": 9, "font": "Liberation Sans", "color": "#111", "baseline": "middle"}, "encoding": {"x": {"field": "e", "type": "quantitative"}, "y": {"field": "c", "type": "quantitative"}, "text": {"field": "t"}}},
     {"data": {"name": "one"}, "mark": {"type": "text", "align": "right", "baseline": "alphabetic", "font": "Open Sans", "fontWeight": "bold", "fontSize": 23, "color": "#98400f"}, "encoding": {"x": {"datum": 9.269, "type": "quantitative"}, "y": {"datum": 1308.4, "type": "quantitative"}, "text": {"value": "PPB Kiln"}}}
    ]},
   {"width": 515, "height": 252,
    "layer": [
     {"data": {"name": "one"}, "mark": {"type": "rect", "fillOpacity": 0, "stroke": "#3a3a3a", "strokeWidth": 1.6, "clip": false}, "encoding": {"x": {"datum": -1.053, "type": "quantitative", "scale": {"domain": [0, 9.6], "nice": false, "zero": false}, "axis": {"values": [0,1,2,3,4,5,6,7,8,9], "tickCount": 40, "format": ".2f", "title": null, "labelOverlap": false, "labelFlush": false}}, "x2": {"datum": 9.944}, "y": {"datum": 1734.8, "type": "quantitative", "scale": {"domain": [63, 1674], "nice": false, "zero": false}, "axis": {"values": [170,340,510,680,850,1020,1190,1360,1530], "tickCount": 40, "labelExpr": "format(datum.value/1000,'.2f')+'K'", "title": null, "labelOverlap": false, "labelFlush": false}}, "y2": {"datum": -208.7}}},
     {"data": {"name": "f4"}, "mark": {"type": "line", "color": "#3cc8ee", "strokeWidth": 1.4, "clip": true}, "encoding": {"x": {"field": "e", "type": "quantitative"}, "y": {"field": "c", "type": "quantitative"}}},
     {"data": {"name": "s4"}, "mark": {"type": "area", "color": "#e00000", "opacity": 1, "clip": true, "line": {"color": "#2a1a3a", "strokeWidth": 0.7}}, "encoding": {"x": {"field": "e", "type": "quantitative"}, "y": {"field": "c", "type": "quantitative"}}},
     {"data": {"name": "l4"}, "mark": {"type": "text", "fontSize": 9, "font": "Liberation Sans", "color": "#111", "baseline": "middle"}, "encoding": {"x": {"field": "e", "type": "quantitative"}, "y": {"field": "c", "type": "quantitative"}, "text": {"field": "t"}}},
     {"data": {"name": "one"}, "mark": {"type": "text", "align": "right", "baseline": "alphabetic", "font": "Open Sans", "fontWeight": "bold", "fontSize": 23, "color": "#98400f"}, "encoding": {"x": {"datum": 9.097, "type": "quantitative"}, "y": {"datum": 1373.5, "type": "quantitative"}, "text": {"value": "600 PPB MF"}}}
    ]}
  ], "spacing": 83, "bounds": "flush"},
  {"vconcat": [
   {"hconcat": [
    {"width": 537.5, "height": 304,
     "layer": [
      {"data": {"name": "one"}, "mark": {"type": "rect", "fillOpacity": 0, "stroke": "#3a3a3a", "strokeWidth": 1.6, "clip": false}, "encoding": {"x": {"datum": -0.689, "type": "quantitative", "scale": {"domain": [0, 9.88], "nice": false, "zero": false}, "axis": {"values": [0,1,2,3,4,5,6,7,8,9], "tickCount": 40, "format": ".2f", "title": null, "labelOverlap": false, "labelFlush": false}}, "x2": {"datum": 10.221}, "y": {"datum": 1130.6, "type": "quantitative", "scale": {"domain": [5, 1071], "nice": false, "zero": false}, "axis": {"values": [110,220,330,440,550,660,770,880,990], "tickCount": 40, "labelExpr": "format(datum.value/1000,'.2f')+'K'", "title": null, "labelOverlap": false, "labelFlush": false}}, "y2": {"datum": -110.7}}},
      {"data": {"name": "f5"}, "mark": {"type": "line", "color": "#3cc8ee", "strokeWidth": 1.4, "clip": true}, "encoding": {"x": {"field": "e", "type": "quantitative"}, "y": {"field": "c", "type": "quantitative"}}},
      {"data": {"name": "s5"}, "mark": {"type": "area", "color": "#e00000", "opacity": 1, "clip": true, "line": {"color": "#2a1a3a", "strokeWidth": 0.7}}, "encoding": {"x": {"field": "e", "type": "quantitative"}, "y": {"field": "c", "type": "quantitative"}}},
      {"data": {"name": "l5"}, "mark": {"type": "text", "fontSize": 9, "font": "Liberation Sans", "color": "#111", "baseline": "middle"}, "encoding": {"x": {"field": "e", "type": "quantitative"}, "y": {"field": "c", "type": "quantitative"}, "text": {"field": "t"}}},
      {"data": {"name": "one"}, "mark": {"type": "text", "align": "right", "baseline": "alphabetic", "font": "Open Sans", "fontWeight": "bold", "fontSize": 23, "color": "#98400f"}, "encoding": {"x": {"datum": 9.292, "type": "quantitative"}, "y": {"datum": 920.2, "type": "quantitative"}, "text": {"value": "400 PPB MF"}}}
     ]},
    {"width": 509, "height": 302,
     "layer": [
      {"data": {"name": "one"}, "mark": {"type": "rect", "fillOpacity": 0, "stroke": "#3a3a3a", "strokeWidth": 1.6, "clip": false}, "encoding": {"x": {"datum": -1.118, "type": "quantitative", "scale": {"domain": [0, 9.48], "nice": false, "zero": false}, "axis": {"values": [0,1,2,3,4,5,6,7,8,9], "tickCount": 40, "format": ".2f", "title": null, "labelOverlap": false, "labelFlush": false}}, "x2": {"datum": 9.825}, "y": {"datum": 395.6, "type": "quantitative", "scale": {"domain": [9, 375], "nice": false, "zero": false}, "axis": {"values": [36,72,108,144,180,216,252,288,324,360], "tickCount": 40, "title": null, "labelOverlap": false, "labelFlush": false}}, "y2": {"datum": -33.4}}},
      {"data": {"name": "f6"}, "mark": {"type": "line", "color": "#3cc8ee", "strokeWidth": 1.4, "clip": true}, "encoding": {"x": {"field": "e", "type": "quantitative"}, "y": {"field": "c", "type": "quantitative"}}},
      {"data": {"name": "s6"}, "mark": {"type": "area", "color": "#e00000", "opacity": 1, "clip": true, "line": {"color": "#2a1a3a", "strokeWidth": 0.7}}, "encoding": {"x": {"field": "e", "type": "quantitative"}, "y": {"field": "c", "type": "quantitative"}}},
      {"data": {"name": "l6"}, "mark": {"type": "text", "fontSize": 9, "font": "Liberation Sans", "color": "#111", "baseline": "middle"}, "encoding": {"x": {"field": "e", "type": "quantitative"}, "y": {"field": "c", "type": "quantitative"}, "text": {"field": "t"}}},
      {"data": {"name": "one"}, "mark": {"type": "text", "align": "right", "baseline": "alphabetic", "font": "Open Sans", "fontWeight": "bold", "fontSize": 23, "color": "#98400f"}, "encoding": {"x": {"datum": 8.958, "type": "quantitative"}, "y": {"datum": 326.5, "type": "quantitative"}, "text": {"value": "Maize biomass"}}}
     ]}
   ], "spacing": 88.5, "bounds": "flush"},
   {"vconcat": [
    {"hconcat": [
     {"width": 541, "height": 278,
      "layer": [
       {"data": {"name": "one"}, "mark": {"type": "rect", "fillOpacity": 0, "stroke": "#3a3a3a", "strokeWidth": 1.6, "clip": false}, "encoding": {"x": {"datum": -0.652, "type": "quantitative", "scale": {"domain": [0, 9.93], "nice": false, "zero": false}, "axis": {"values": [0,1,2,3,4,5,6,7,8,9], "tickCount": 40, "format": ".2f", "title": null, "labelOverlap": false, "labelFlush": false}}, "x2": {"datum": 10.206}, "y": {"datum": 2665.5, "type": "quantitative", "scale": {"domain": [29, 2501], "nice": false, "zero": false}, "axis": {"values": [240,480,720,960,1200,1440,1680,1920,2160,2400], "tickCount": 40, "labelExpr": "format(datum.value/1000,'.2f')+'K'", "title": null, "labelOverlap": false, "labelFlush": false}}, "y2": {"datum": -286.7}}},
       {"data": {"name": "f7"}, "mark": {"type": "line", "color": "#3cc8ee", "strokeWidth": 1.4, "clip": true}, "encoding": {"x": {"field": "e", "type": "quantitative"}, "y": {"field": "c", "type": "quantitative"}}},
       {"data": {"name": "s7"}, "mark": {"type": "area", "color": "#e00000", "opacity": 1, "clip": true, "line": {"color": "#2a1a3a", "strokeWidth": 0.7}}, "encoding": {"x": {"field": "e", "type": "quantitative"}, "y": {"field": "c", "type": "quantitative"}}},
       {"data": {"name": "l7"}, "mark": {"type": "text", "fontSize": 9, "font": "Liberation Sans", "color": "#111", "baseline": "middle"}, "encoding": {"x": {"field": "e", "type": "quantitative"}, "y": {"field": "c", "type": "quantitative"}, "text": {"field": "t"}}},
       {"data": {"name": "one"}, "mark": {"type": "text", "align": "right", "baseline": "alphabetic", "font": "Open Sans", "fontWeight": "bold", "fontSize": 23, "color": "#98400f"}, "encoding": {"x": {"datum": 9.214, "type": "quantitative"}, "y": {"datum": 2118.6, "type": "quantitative"}, "text": {"value": "MB Kiln"}}}
      ]},
     {"width": 532, "height": 281,
      "layer": [
       {"data": {"name": "one"}, "mark": {"type": "rect", "fillOpacity": 0, "stroke": "#3a3a3a", "strokeWidth": 1.6, "clip": false}, "encoding": {"x": {"datum": -0.727, "type": "quantitative", "scale": {"domain": [0, 9.67], "nice": false, "zero": false}, "axis": {"values": [0,1,2,3,4,5,6,7,8,9], "tickCount": 40, "format": ".2f", "title": null, "labelOverlap": false, "labelFlush": false}}, "x2": {"datum": 9.933}, "y": {"datum": 216.2, "type": "quantitative", "scale": {"domain": [2, 203], "nice": false, "zero": false}, "axis": {"values": [20,40,60,80,100,120,140,160,180], "tickCount": 40, "title": null, "labelOverlap": false, "labelFlush": false}}, "y2": {"datum": -21.2}}},
       {"data": {"name": "f8"}, "mark": {"type": "line", "color": "#3cc8ee", "strokeWidth": 1.4, "clip": true}, "encoding": {"x": {"field": "e", "type": "quantitative"}, "y": {"field": "c", "type": "quantitative"}}},
       {"data": {"name": "s8"}, "mark": {"type": "area", "color": "#e00000", "opacity": 1, "clip": true, "line": {"color": "#2a1a3a", "strokeWidth": 0.7}}, "encoding": {"x": {"field": "e", "type": "quantitative"}, "y": {"field": "c", "type": "quantitative"}}},
       {"data": {"name": "l8"}, "mark": {"type": "text", "fontSize": 9, "font": "Liberation Sans", "color": "#111", "baseline": "middle"}, "encoding": {"x": {"field": "e", "type": "quantitative"}, "y": {"field": "c", "type": "quantitative"}, "text": {"field": "t"}}},
       {"data": {"name": "one"}, "mark": {"type": "text", "align": "right", "baseline": "alphabetic", "font": "Open Sans", "fontWeight": "bold", "fontSize": 23, "color": "#98400f"}, "encoding": {"x": {"datum": 9.125, "type": "quantitative"}, "y": {"datum": 172.2, "type": "quantitative"}, "text": {"value": "500 MB MF"}}}
      ]}
    ], "spacing": 67.6, "bounds": "flush"},
    {"hconcat": [
     {"width": 536.5, "height": 280,
      "layer": [
       {"data": {"name": "one"}, "mark": {"type": "rect", "fillOpacity": 0, "stroke": "#3a3a3a", "strokeWidth": 1.6, "clip": false}, "encoding": {"x": {"datum": -0.766, "type": "quantitative", "scale": {"domain": [0, 9.9], "nice": false, "zero": false}, "axis": {"values": [0,1,2,3,4,5,6,7,8,9], "tickCount": 40, "format": ".2f", "title": null, "labelOverlap": false, "labelFlush": false}}, "x2": {"datum": 10.131}, "y": {"datum": 1138.8, "type": "quantitative", "scale": {"domain": [12, 1069], "nice": false, "zero": false}, "axis": {"values": [110,220,330,440,550,660,770,880,990], "tickCount": 40, "labelExpr": "format(datum.value/1000,'.2f')+'K'", "title": null, "labelOverlap": false, "labelFlush": false}}, "y2": {"datum": -89.9}}},
       {"data": {"name": "f9"}, "mark": {"type": "line", "color": "#3cc8ee", "strokeWidth": 1.4, "clip": true}, "encoding": {"x": {"field": "e", "type": "quantitative"}, "y": {"field": "c", "type": "quantitative"}}},
       {"data": {"name": "s9"}, "mark": {"type": "area", "color": "#e00000", "opacity": 1, "clip": true, "line": {"color": "#2a1a3a", "strokeWidth": 0.7}}, "encoding": {"x": {"field": "e", "type": "quantitative"}, "y": {"field": "c", "type": "quantitative"}}},
       {"data": {"name": "l9"}, "mark": {"type": "text", "fontSize": 9, "font": "Liberation Sans", "color": "#111", "baseline": "middle"}, "encoding": {"x": {"field": "e", "type": "quantitative"}, "y": {"field": "c", "type": "quantitative"}, "text": {"field": "t"}}},
       {"data": {"name": "one"}, "mark": {"type": "text", "align": "right", "baseline": "alphabetic", "font": "Open Sans", "fontWeight": "bold", "fontSize": 23, "color": "#98400f"}, "encoding": {"x": {"datum": 9.494, "type": "quantitative"}, "y": {"datum": 887.8, "type": "quantitative"}, "text": {"value": "400 MB MF"}}}
      ]},
     {"width": 532.5, "height": 283,
      "layer": [
       {"data": {"name": "one"}, "mark": {"type": "rect", "fillOpacity": 0, "stroke": "#3a3a3a", "strokeWidth": 1.6, "clip": false}, "encoding": {"x": {"datum": -0.705, "type": "quantitative", "scale": {"domain": [0, 9.88], "nice": false, "zero": false}, "axis": {"values": [0,1,2,3,4,5,6,7,8,9], "tickCount": 40, "format": ".2f", "title": null, "labelOverlap": false, "labelFlush": false}}, "x2": {"datum": 10.176}, "y": {"datum": 1302.6, "type": "quantitative", "scale": {"domain": [24, 1224], "nice": false, "zero": false}, "axis": {"values": [120,240,360,480,600,720,840,960,1080,1200], "tickCount": 40, "labelExpr": "format(datum.value/1000,'.2f')+'K'", "title": null, "labelOverlap": false, "labelFlush": false}}, "y2": {"datum": -77.8}}},
       {"data": {"name": "f10"}, "mark": {"type": "line", "color": "#3cc8ee", "strokeWidth": 1.4, "clip": true}, "encoding": {"x": {"field": "e", "type": "quantitative"}, "y": {"field": "c", "type": "quantitative"}}},
       {"data": {"name": "s10"}, "mark": {"type": "area", "color": "#e00000", "opacity": 1, "clip": true, "line": {"color": "#2a1a3a", "strokeWidth": 0.7}}, "encoding": {"x": {"field": "e", "type": "quantitative"}, "y": {"field": "c", "type": "quantitative"}}},
       {"data": {"name": "l10"}, "mark": {"type": "text", "fontSize": 9, "font": "Liberation Sans", "color": "#111", "baseline": "middle"}, "encoding": {"x": {"field": "e", "type": "quantitative"}, "y": {"field": "c", "type": "quantitative"}, "text": {"field": "t"}}},
       {"data": {"name": "one"}, "mark": {"type": "text", "align": "right", "baseline": "alphabetic", "font": "Open Sans", "fontWeight": "bold", "fontSize": 23, "color": "#98400f"}, "encoding": {"x": {"datum": 9.37, "type": "quantitative"}, "y": {"datum": 1058.6, "type": "quantitative"}, "text": {"value": "600 MB MF"}}}
      ]}
    ], "spacing": 64.5, "bounds": "flush"}
   ], "spacing": 14.4}
  ], "spacing": 21.4}
 ], "spacing": 10.4}
],
"config": {
 "view": {"stroke": "#4a4ac6", "strokeWidth": 1.3},
 "axis": {"ticks": false, "domain": false, "grid": false, "labelFont": "'Liberation Sans Narrow', 'DejaVu Sans Condensed', 'Liberation Sans', sans-serif", "labelFontWeight": "bold", "labelFontSize": 9.5, "labelColor": "#111", "labelOverlap": false, "labelFlush": false, "labelBound": false},
 "axisX": {"labelPadding": 7},
 "axisY": {"labelPadding": 3}
}
}
